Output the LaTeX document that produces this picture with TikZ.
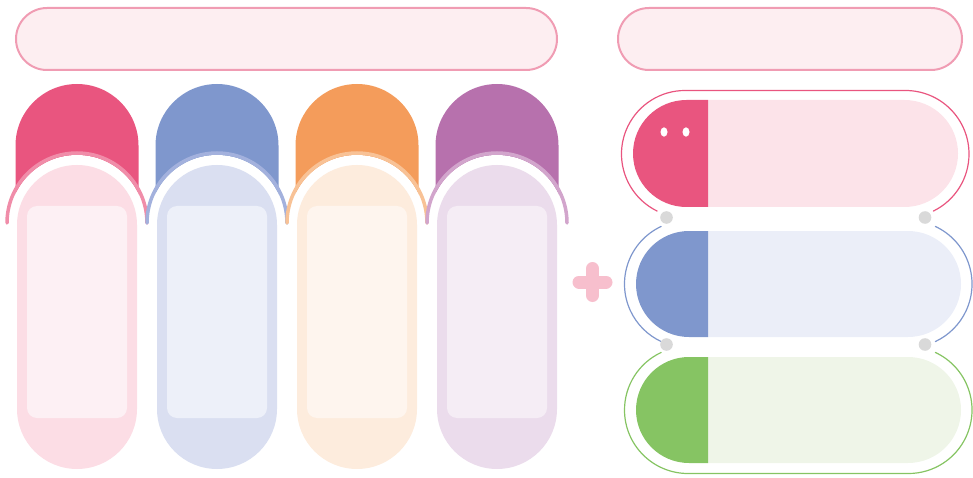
\documentclass[tikz,border=0pt]{standalone}
\usetikzlibrary{calc}
\definecolor{tabA}{HTML}{E9557F}\definecolor{ringA}{HTML}{F08DA9}\definecolor{bodyA}{HTML}{FCDDE5}\definecolor{innerA}{HTML}{FDF0F4}
\definecolor{tabB}{HTML}{7F97CD}\definecolor{ringB}{HTML}{A3B1DD}\definecolor{bodyB}{HTML}{DADFF1}\definecolor{innerB}{HTML}{EDF0F9}
\definecolor{tabC}{HTML}{F49C5B}\definecolor{ringC}{HTML}{F8C296}\definecolor{bodyC}{HTML}{FDECDD}\definecolor{innerC}{HTML}{FEF5EE}
\definecolor{tabD}{HTML}{B771AD}\definecolor{ringD}{HTML}{D2A5CC}\definecolor{bodyD}{HTML}{EBDCEC}\definecolor{innerD}{HTML}{F5EDF5}
\definecolor{grn}{HTML}{86C463}
\definecolor{lightA}{HTML}{FCE3E9}\definecolor{lightB}{HTML}{EBEEF8}\definecolor{lightG}{HTML}{EFF5E8}
\definecolor{bannerfill}{HTML}{FDEEF1}\definecolor{bannerline}{HTML}{F09CB3}
\definecolor{dotgray}{HTML}{D9D9D9}\definecolor{plusc}{HTML}{F7BFCD}
\begin{document}
\begin{tikzpicture}[x=1pt,y=-1pt,
  banner/.style={fill=bannerfill,draw=bannerline,line width=2pt,rounded corners=31pt},
  ringline/.style={line width=3.5pt,line cap=round},
  outl/.style={line width=1.2pt,line cap=round},
  dotc/.style={fill=dotgray},
  plusbar/.style={draw=plusc,line width=13pt,line cap=round}]
\useasboundingbox (0,0) rectangle (973,478);
% banners
\path[banner] (16,8) rectangle (557,70);
\path[banner] (618,8) rectangle (962,70);
% columns
\foreach \cx/\tc/\rc/\bc/\ic in {77/tabA/ringA/bodyA/innerA,217/tabB/ringB/bodyB/innerB,357/tabC/ringC/bodyC/innerC,497/tabD/ringD/bodyD/innerD}{
  \fill[\tc] (\cx-61.5,215) -- (\cx-61.5,145.5) arc[start angle=180,end angle=360,radius=61.5] -- (\cx+61.5,215) -- cycle;
  \fill[white] (\cx,223) circle[radius=68];
  \draw[\rc,ringline] (\cx-70,223) arc[start angle=180,end angle=360,radius=70];
  \fill[\bc] (\cx-60,225) arc[start angle=180,end angle=360,radius=60] -- (\cx+60,409) arc[start angle=0,end angle=180,radius=60] -- cycle;
  \fill[\ic,rounded corners=10pt] (\cx-50,206) rectangle (\cx+50,418);
}
% plus
\draw[plusbar] (579,282) -- (606,282);
\draw[plusbar] (592.5,268.5) -- (592.5,295.5);
% right rows
% row 1
\fill[lightA] (708,100) -- (904.5,100) arc[start angle=270,end angle=450,radius=53.5] -- (708,207) -- cycle;
\fill[tabA] (708,100) -- (686.5,100) arc[start angle=270,end angle=90,radius=53.5] -- (708,207) -- cycle;
\fill[white] (664,132) ellipse[x radius=3.5,y radius=4.7];
\fill[white] (686,132) ellipse[x radius=3.5,y radius=4.7];
\draw[tabA,outl] ($(685,154)+(116:63.5)$) arc[start angle=116,end angle=270,radius=63.5] -- (905.5,90.5) arc[start angle=270,end angle=424,radius=63.5];
% row 2
\fill[lightB] (708,231) -- (908,231) arc[start angle=270,end angle=450,radius=53] -- (708,337) -- cycle;
\fill[tabB] (708,231) -- (689,231) arc[start angle=270,end angle=90,radius=53] -- (708,337) -- cycle;
\draw[tabB,outl] ($(688,284)+(245:63.5)$) arc[start angle=245,end angle=115,radius=63.5];
\draw[tabB,outl] ($(908.5,284)+(-65:63.5)$) arc[start angle=-65,end angle=65,radius=63.5];
% row 3
\fill[lightG] (708,357) -- (908,357) arc[start angle=270,end angle=450,radius=53] -- (708,463) -- cycle;
\fill[grn] (708,357) -- (689,357) arc[start angle=270,end angle=90,radius=53] -- (708,463) -- cycle;
\draw[grn,outl] ($(908.5,410)+(-65:63.5)$) arc[start angle=-65,end angle=90,radius=63.5] -- (688,473.5) arc[start angle=90,end angle=245,radius=63.5];
% dots
\fill[dotc] (666.5,217.5) circle[radius=6.3];
\fill[dotc] (925,217.5) circle[radius=6.3];
\fill[dotc] (666.5,344.5) circle[radius=6.3];
\fill[dotc] (925,344.5) circle[radius=6.3];
\end{tikzpicture}
\end{document}
